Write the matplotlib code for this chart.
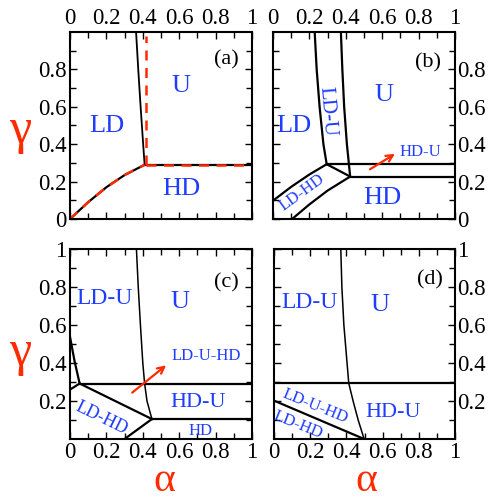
import numpy as np
import matplotlib.pyplot as plt

plt.rcParams['font.family'] = ['Liberation Serif', 'DejaVu Serif']

BLUE = '#1f3cff'
RED = '#ff2a00'

# ---- panel (a) ----
a_ldhd_alpha = [0, 0.1, 0.2, 0.3, 0.41]
a_ldhd_gamma = [0, 0.09, 0.17, 0.235, 0.29]
a_ldu_alpha = [0.41, 0.402, 0.388, 0.375, 0.363]
a_ldu_gamma = [0.29, 0.4, 0.6, 0.8, 1.0]
a_hd_gamma = 0.29
a_red_alpha = 0.415
a_red_top = 0.98

# ---- panel (b) ----
b_left_alpha = [0.295, 0.277, 0.256, 0.24, 0.229]
b_left_gamma = [0.293, 0.4, 0.6, 0.8, 1.0]
b_right_alpha = [0.424, 0.406, 0.391, 0.381, 0.373]
b_right_gamma = [0.227, 0.4, 0.6, 0.8, 1.0]
b_up_alpha = [0, 0.1, 0.2, 0.295]
b_up_gamma = [0.098, 0.172, 0.238, 0.293]
b_low_alpha = [0.105, 0.2, 0.3, 0.424]
b_low_gamma = [0, 0.078, 0.152, 0.227]
b_h1 = 0.293
b_h2 = 0.227
b_arrow = [(0.52, 0.258), (0.683, 0.356)]

# ---- panel (c) ----
c_short_alpha = [0, 0.025, 0.053]
c_short_gamma = [0.538, 0.41, 0.292]
c_seg_alpha = [0, 0.053]
c_seg_gamma = [0.26, 0.292]
c_diag_alpha = [0.053, 0.45]
c_diag_gamma = [0.292, 0.105]
c_bot_alpha = [0.30, 0.45]
c_bot_gamma = [0, 0.105]
c_h1 = 0.292
c_h2 = 0.105
c_thin_alpha = [0.45, 0.423, 0.41, 0.40, 0.387, 0.375, 0.365]
c_thin_gamma = [0.105, 0.2, 0.292, 0.4, 0.6, 0.8, 1.0]
c_arrow = [(0.33, 0.235), (0.54, 0.397)]

# ---- panel (d) ----
d_h1 = 0.294
d_thin_alpha = [0.498, 0.465, 0.437, 0.413, 0.386, 0.375, 0.369]
d_thin_gamma = [0, 0.1, 0.2, 0.294, 0.6, 0.8, 1.0]
d_line_alpha = [0, 0.498]
d_line_gamma = [0.202, 0]

tick_vals = [0, 0.2, 0.4, 0.6, 0.8, 1]
tick_txt = ['0', '0.2', '0.4', '0.6', '0.8', '1']


def setup(ax, xside, yside, ykeep):
    ax.set_xlim(0, 1)
    ax.set_ylim(0, 1)
    ax.set_xticks(tick_vals)
    ax.set_yticks([v for v in tick_vals if v in ykeep])
    ax.set_xticklabels(tick_txt)
    ax.set_yticklabels([t for v, t in zip(tick_vals, tick_txt) if v in ykeep])
    ax.set_xticks(np.arange(0.1, 1.0, 0.2), minor=True)
    ax.set_yticks(np.arange(0.1, 1.0, 0.2), minor=True)
    ax.tick_params(which='both', direction='in', top=True, bottom=True,
                   left=True, right=True, labelsize=16.5, pad=2.5)
    ax.tick_params(which='major', length=5, width=1)
    ax.tick_params(which='minor', length=4, width=1)
    ax.tick_params(labeltop=(xside == 'top'), labelbottom=(xside == 'bottom'),
                   labelleft=(yside == 'left'), labelright=(yside == 'right'))
    if yside == 'right':
        ax.tick_params(axis='y', pad=1.5)
    for s in ax.spines.values():
        s.set_linewidth(1.5)


def txt(ax, x, y, s, size, rot=0):
    ax.text(x, y, s, color=BLUE, fontsize=size, rotation=rot,
            ha='center', va='center')


fig = plt.figure(figsize=(4.88, 5.03), dpi=100)
W, H = 488, 503


def box(x0, y0, x1, y1):
    return [x0 / W, 1 - y1 / H, (x1 - x0) / W, (y1 - y0) / H]


ax_a = fig.add_axes(box(70, 32, 252, 219))
ax_b = fig.add_axes(box(273, 32, 455, 219))
ax_c = fig.add_axes(box(70, 249, 252, 439))
ax_d = fig.add_axes(box(274, 249, 455, 439))

setup(ax_a, 'top', 'left', [0, 0.2, 0.4, 0.6, 0.8])
setup(ax_b, 'top', 'right', [0, 0.2, 0.4, 0.6, 0.8])
setup(ax_c, 'bottom', 'left', [0.2, 0.4, 0.6, 0.8, 1])
setup(ax_d, 'bottom', 'right', [0.2, 0.4, 0.6, 0.8, 1])

thick = 1.6
thin = 1.1

# (a)
ax = ax_a
ax.plot(a_ldhd_alpha, a_ldhd_gamma, color='black', lw=thick)
ax.plot(a_ldu_alpha, a_ldu_gamma, color='black', lw=thin + 0.2)
ax.plot([a_ldu_alpha[0], 1], [a_hd_gamma, a_hd_gamma], color='black', lw=thick)
dash = dict(color=RED, lw=1.8, dashes=(4, 3))
ax.plot(a_ldhd_alpha, a_ldhd_gamma, **dash)
ax.plot([a_red_alpha, 1], [a_hd_gamma, a_hd_gamma], **dash)
ax.plot([a_red_alpha, a_red_alpha], [a_hd_gamma, a_red_top], **dash)
txt(ax, 0.2, 0.5, 'LD', 19)
txt(ax, 0.61, 0.71, 'U', 19)
txt(ax, 0.61, 0.16, 'HD', 19)
ax.text(0.86, 0.85, '(a)', fontsize=16, ha='center', va='center')

# (b)
ax = ax_b
ax.plot(b_left_alpha, b_left_gamma, color='black', lw=thick)
ax.plot(b_right_alpha, b_right_gamma, color='black', lw=thick)
ax.plot(b_up_alpha, b_up_gamma, color='black', lw=thick)
ax.plot(b_low_alpha, b_low_gamma, color='black', lw=thick)
ax.plot([b_left_alpha[0], 1], [b_h1, b_h1], color='black', lw=thick)
ax.plot([b_right_alpha[0], 1], [b_h2, b_h2], color='black', lw=thick)
ax.plot([b_left_alpha[0], b_right_alpha[0]], [b_h1, b_h2], color='black', lw=thick)
ax.annotate('', xy=b_arrow[1], xytext=b_arrow[0],
            arrowprops=dict(arrowstyle='->', color=RED, lw=1.6, mutation_scale=12))
txt(ax, 0.115, 0.5, 'LD', 19)
txt(ax, 0.61, 0.665, 'U', 19)
txt(ax, 0.6, 0.11, 'HD', 19)
txt(ax, 0.81, 0.36, 'HD-U', 12)
txt(ax, 0.295, 0.575, 'LD-U', 15, rot=-85)
txt(ax, 0.16, 0.14, 'LD-HD', 12, rot=36)
ax.text(0.85, 0.835, '(b)', fontsize=16, ha='center', va='center')

# (c)
ax = ax_c
ax.plot(c_short_alpha, c_short_gamma, color='black', lw=thick)
ax.plot(c_seg_alpha, c_seg_gamma, color='black', lw=thick)
ax.plot([c_short_alpha[-1], 1], [c_h1, c_h1], color='black', lw=thick)
ax.plot(c_diag_alpha, c_diag_gamma, color='black', lw=thick)
ax.plot([c_diag_alpha[-1], 1], [c_h2, c_h2], color='black', lw=thick)
ax.plot(c_bot_alpha, c_bot_gamma, color='black', lw=thick)
ax.plot(c_thin_alpha, c_thin_gamma, color='black', lw=thin)
ax.annotate('', xy=c_arrow[1], xytext=c_arrow[0],
            arrowprops=dict(arrowstyle='->', color=RED, lw=1.6, mutation_scale=12))
txt(ax, 0.19, 0.74, 'LD-U', 17)
txt(ax, 0.605, 0.72, 'U', 19)
txt(ax, 0.75, 0.435, 'LD-U-HD', 12)
txt(ax, 0.705, 0.19, 'HD-U', 16)
txt(ax, 0.715, 0.04, 'HD', 12)
txt(ax, 0.175, 0.11, 'LD-HD', 13, rot=-26)
ax.text(0.86, 0.82, '(c)', fontsize=16, ha='center', va='center')

# (d)
ax = ax_d
ax.plot([0, 1], [d_h1, d_h1], color='black', lw=thick)
ax.plot(d_thin_alpha, d_thin_gamma, color='black', lw=thin)
ax.plot(d_line_alpha, d_line_gamma, color='black', lw=thick)
txt(ax, 0.195, 0.72, 'LD-U', 17)
txt(ax, 0.585, 0.705, 'U', 19)
txt(ax, 0.66, 0.14, 'HD-U', 16)
txt(ax, 0.23, 0.17, 'LD-U-HD', 12, rot=-22)
txt(ax, 0.13, 0.075, 'LD-HD', 12, rot=-22)
ax.text(0.86, 0.84, '(d)', fontsize=16, ha='center', va='center')

# axis symbols
fig.text(20 / W, 1 - 131 / H, 'γ', color=RED, fontsize=36, ha='center', va='center')
fig.text(20 / W, 1 - 353 / H, 'γ', color=RED, fontsize=36, ha='center', va='center')
fig.text(164 / W, 1 - 481 / H, 'α', color=RED, fontsize=30, ha='center', va='center')
fig.text(366 / W, 1 - 481 / H, 'α', color=RED, fontsize=30, ha='center', va='center')

fig.savefig('out.png', dpi=100)
